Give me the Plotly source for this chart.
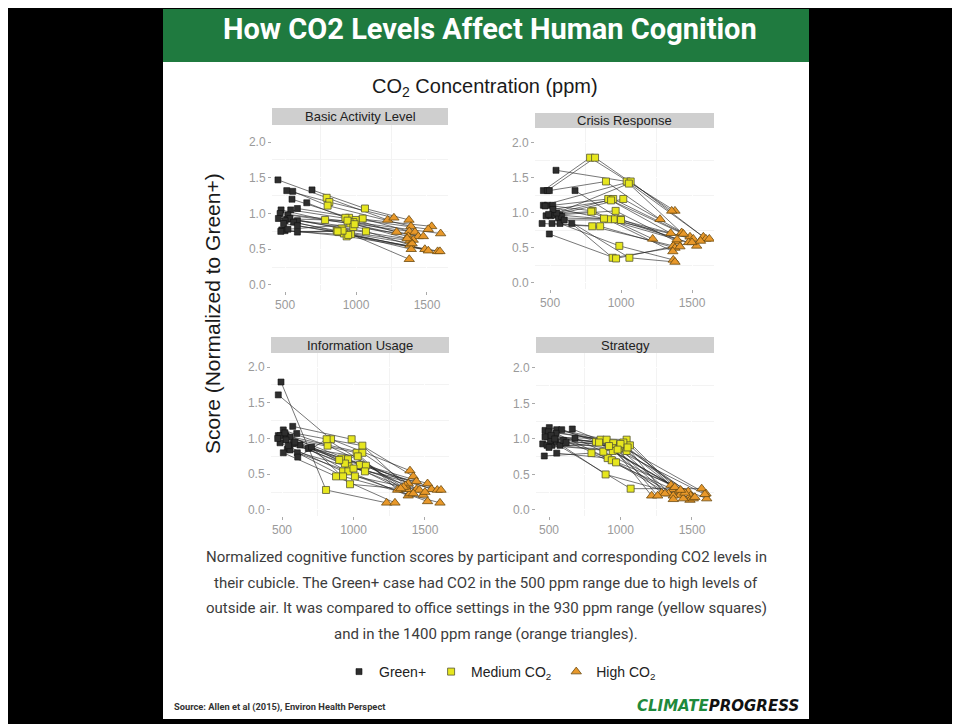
import plotly.graph_objects as go

W, H = 960, 724

# ---------------- data ----------------
panel_titles = ["Basic Activity Level", "Crisis Response", "Information Usage", "Strategy"]
x_ticks = [500, 1000, 1500]
y_ticks = [0.0, 0.5, 1.0, 1.5, 2.0]
y_tick_labels = ["0.0", "0.5", "1.0", "1.5", "2.0"]
legend_names = ["Green+", "Medium CO<sub>2</sub>", "High CO<sub>2</sub>"]

# Basic Activity Level
bal_green_x = [450, 690, 512, 554, 549, 653, 587, 540, 472, 465, 520, 453, 512, 535, 500, 587, 560, 587, 490, 477, 500, 587, 470, 520]
bal_green_y = [1.47, 1.33, 1.32, 1.31, 1.20, 1.15, 1.07, 1.05, 1.05, 1.00, 0.98, 0.93, 0.92, 0.93, 0.90, 0.90, 0.88, 0.83, 0.86, 0.77, 0.76, 0.74, 0.75, 0.78]
bal_med_x = [793, 1063, 812, 800, 951, 925, 1047, 997, 782, 981, 960, 940, 981, 899, 864, 1070, 880, 915, 964, 934, 945, 905, 870, 990]
bal_med_y = [1.22, 1.07, 1.16, 1.11, 0.94, 0.94, 0.93, 0.91, 0.91, 0.88, 0.86, 0.90, 0.81, 0.79, 0.76, 0.75, 0.74, 0.72, 0.71, 0.68, 0.70, 0.76, 0.75, 0.85]
bal_high_x = [1223, 1373, 1267, 1387, 1533, 1509, 1375, 1286, 1415, 1596, 1368, 1439, 1474, 1403, 1380, 1380, 1389, 1485, 1509, 1575, 1591, 1375, 1395, 1360]
bal_high_y = [0.91, 0.91, 0.94, 0.82, 0.82, 0.78, 0.75, 0.74, 0.74, 0.72, 0.68, 0.68, 0.68, 0.63, 0.62, 0.56, 0.50, 0.50, 0.48, 0.47, 0.47, 0.36, 0.58, 0.65]

# Crisis Response
cr_green_x = [453, 481, 495, 542, 453, 481, 519, 472, 505, 535, 570, 559, 676, 444, 514, 570, 653, 495, 582, 547, 520, 490, 600, 465]
cr_green_y = [1.32, 1.32, 1.32, 1.61, 1.11, 1.11, 1.11, 0.96, 0.96, 0.97, 0.97, 0.93, 1.32, 0.85, 0.85, 0.85, 0.85, 0.70, 0.95, 1.00, 1.05, 0.98, 0.90, 1.10]
cr_med_x = [782, 817, 894, 1040, 1068, 800, 910, 945, 1016, 962, 910, 957, 997, 797, 853, 988, 941, 965, 1059, 1055, 930, 790, 1000, 880]
cr_med_y = [1.79, 1.79, 1.45, 1.45, 1.45, 1.03, 1.20, 1.20, 1.20, 1.03, 0.91, 0.91, 0.91, 0.81, 0.81, 0.53, 0.36, 0.35, 0.36, 1.42, 1.18, 1.02, 0.90, 0.92]
cr_high_x = [1380, 1357, 1275, 1580, 1598, 1223, 1350, 1427, 1486, 1392, 1509, 1476, 1533, 1368, 1380, 1368, 1415, 1622, 1380, 1500, 1440, 1365, 1560, 1395]
cr_high_y = [1.03, 1.03, 0.91, 0.66, 0.63, 0.63, 0.71, 0.72, 0.66, 0.59, 0.63, 0.58, 0.53, 0.53, 0.50, 0.33, 0.52, 0.63, 0.30, 0.58, 0.70, 0.45, 0.60, 0.62]

# Information Usage
iu_green_x = [493, 474, 575, 509, 603, 474, 528, 486, 556, 528, 579, 626, 486, 537, 556, 509, 607, 684, 707, 610, 470, 520, 590, 545]
iu_green_y = [1.79, 1.61, 1.17, 1.12, 1.07, 1.04, 1.04, 1.04, 1.02, 0.98, 0.93, 0.91, 0.94, 0.85, 0.84, 0.80, 0.80, 0.86, 0.88, 0.74, 1.00, 1.08, 0.95, 0.90]
iu_med_x = [808, 843, 987, 819, 1062, 1022, 1062, 917, 962, 965, 1045, 1087, 927, 964, 1080, 878, 927, 1010, 976, 812, 940, 1000, 900, 1030]
iu_med_y = [0.28, 0.99, 0.99, 0.90, 0.90, 0.80, 0.80, 0.72, 0.71, 0.61, 0.63, 0.62, 0.54, 0.54, 0.54, 0.47, 0.47, 0.47, 0.36, 0.99, 0.65, 0.58, 0.70, 0.75]
iu_high_x = [1232, 1395, 1418, 1383, 1364, 1309, 1441, 1518, 1546, 1586, 1612, 1488, 1518, 1383, 1395, 1290, 1605, 1460, 1372, 1418, 1350, 1440, 1500, 1330]
iu_high_y = [0.10, 0.55, 0.47, 0.37, 0.34, 0.28, 0.29, 0.37, 0.29, 0.28, 0.28, 0.21, 0.12, 0.20, 0.23, 0.10, 0.10, 0.28, 0.29, 0.23, 0.32, 0.40, 0.25, 0.30]

# Strategy
st_green_x = [456, 467, 554, 472, 502, 488, 530, 554, 589, 663, 486, 521, 551, 509, 577, 600, 549, 495, 682, 472, 515, 540, 620, 500]
st_green_y = [0.93, 0.76, 0.80, 1.12, 1.16, 1.03, 1.02, 1.13, 1.13, 1.14, 0.91, 0.91, 0.96, 0.98, 0.91, 0.98, 1.08, 1.10, 1.01, 1.03, 1.05, 1.00, 0.95, 0.88]
st_med_x = [829, 797, 910, 861, 903, 1043, 1066, 950, 962, 992, 946, 1043, 896, 1071, 997, 939, 969, 1020, 880, 1000, 1050, 920, 980, 850]
st_med_y = [0.96, 0.80, 0.73, 0.99, 0.99, 0.99, 0.91, 0.94, 0.87, 0.87, 0.83, 0.83, 0.50, 0.30, 0.91, 0.70, 0.67, 0.95, 0.82, 0.93, 0.88, 0.90, 0.85, 0.95]
st_high_x = [1353, 1365, 1335, 1288, 1218, 1404, 1416, 1369, 1369, 1474, 1490, 1486, 1509, 1568, 1598, 1603, 1439, 1311, 1380, 1520, 1450, 1590, 1260, 1420]
st_high_y = [0.35, 0.29, 0.23, 0.24, 0.20, 0.26, 0.21, 0.20, 0.15, 0.26, 0.20, 0.14, 0.16, 0.30, 0.23, 0.16, 0.16, 0.23, 0.32, 0.18, 0.24, 0.22, 0.20, 0.28]

panels_data = [
    (bal_green_x, bal_green_y, bal_med_x, bal_med_y, bal_high_x, bal_high_y),
    (cr_green_x, cr_green_y, cr_med_x, cr_med_y, cr_high_x, cr_high_y),
    (iu_green_x, iu_green_y, iu_med_x, iu_med_y, iu_high_x, iu_high_y),
    (st_green_x, st_green_y, st_med_x, st_med_y, st_high_x, st_high_y),
]

# ---------------- layout geometry (page pixels) ----------------
# (left, right, plot_top, plot_bottom, header_top, xrange, yrange)
panel_geo = [
    (272, 448, 125, 291, 108, [408, 1648], [-0.084, 2.238]),
    (535, 714, 128, 289, 113, [394, 1655], [-0.086, 2.214]),
    (271, 449, 353, 516, 337, [423, 1668], [-0.084, 2.196]),
    (536, 714, 353, 516, 337, [409, 1654], [-0.085, 2.21]),
]

OFF = 8  # page body margin


def px(x):
    return (x - OFF) / W


def py(y):
    return 1 - (y - OFF) / H


NARROW = "Roboto, Liberation Sans, Arial"

fig = go.Figure()
layout_axes = {}
shapes = []
annotations = []

# card + banner
shapes.append(dict(type="rect", xref="paper", yref="paper", x0=px(163), x1=px(809), y0=py(719), y1=py(62),
                   fillcolor="white", line_width=0, layer="below"))
shapes.append(dict(type="rect", xref="paper", yref="paper", x0=px(163), x1=px(809), y0=py(62), y1=py(9),
                   fillcolor="#1f7a3f", line_width=0, layer="below"))

green_col = "#2e2e2e"
med_col = "#e6e61e"
high_col = "#e8982a"

for i, (data, geo, title) in enumerate(zip(panels_data, panel_geo, panel_titles)):
    gx, gy, mx, my, hx, hy = data
    l, r, t, b, ht, xr, yr = geo
    n = "" if i == 0 else str(i + 1)
    xa, ya = "x" + n, "y" + n
    lx, ly = [], []
    for k in range(len(gx)):
        lx += [gx[k], mx[k], hx[k], None]
        ly += [gy[k], my[k], hy[k], None]
    fig.add_trace(go.Scatter(x=lx, y=ly, mode="lines", xaxis=xa, yaxis=ya,
                             line=dict(color="rgba(35,35,35,0.62)", width=1),
                             showlegend=False, hoverinfo="skip"))
    fig.add_trace(go.Scatter(x=gx, y=gy, mode="markers", xaxis=xa, yaxis=ya, name=legend_names[0],
                             marker=dict(symbol="square", size=6, color=green_col,
                                         line=dict(color="#111111", width=0.6)),
                             showlegend=(i == 0), legendgroup="g"))
    fig.add_trace(go.Scatter(x=mx, y=my, mode="markers", xaxis=xa, yaxis=ya, name=legend_names[1],
                             marker=dict(symbol="square", size=7, color=med_col,
                                         line=dict(color="#555533", width=0.8)),
                             showlegend=(i == 0), legendgroup="m"))
    fig.add_trace(go.Scatter(x=hx, y=hy, mode="markers", xaxis=xa, yaxis=ya, name=legend_names[2],
                             marker=dict(symbol="triangle-up", size=9, color=high_col,
                                         line=dict(color="#6b4a10", width=0.8)),
                             showlegend=(i == 0), legendgroup="h"))
    layout_axes["xaxis" + n] = dict(
        domain=[px(l), px(r)], range=xr, anchor=ya, tickvals=x_ticks,
        ticks="outside", ticklen=3, tickcolor="#aaaaaa",
        tickfont=dict(family="Liberation Sans, Arial", size=12, color="#9a9a9a"),
        showgrid=True, gridcolor="white", gridwidth=1.2, zeroline=False, showline=False,
        minor=dict(tickvals=[750, 1250], showgrid=True, gridcolor="#f3f3f3", gridwidth=0.6, ticks=""),
    )
    layout_axes["yaxis" + n] = dict(
        domain=[py(b), py(t)], range=yr, anchor=xa, tickvals=y_ticks, ticktext=y_tick_labels,
        ticks="outside", ticklen=3, tickcolor="#aaaaaa",
        tickfont=dict(family="Liberation Sans, Arial", size=12, color="#9a9a9a"),
        showgrid=True, gridcolor="white", gridwidth=1.2, zeroline=False, showline=False,
        minor=dict(tickvals=[0.25, 0.75, 1.25, 1.75], showgrid=True, gridcolor="#f3f3f3", gridwidth=0.6, ticks=""),
    )
    shapes.append(dict(type="rect", xref="paper", yref="paper", x0=px(l), x1=px(r), y0=py(t), y1=py(ht),
                       fillcolor="#cfcfcf", line_width=0))
    annotations.append(dict(x=px((l + r) / 2), y=py((t + ht) / 2), xref="paper", yref="paper",
                            text=title, showarrow=False, xanchor="center", yanchor="middle",
                            font=dict(family="Liberation Sans, Arial", size=13, color="#222222")))

annotations.append(dict(x=px(490), y=py(29), xref="paper", yref="paper", showarrow=False,
                        text="<b>How CO2 Levels Affect Human Cognition</b>",
                        font=dict(family=NARROW, size=29, color="white"),
                        xanchor="center", yanchor="middle"))
annotations.append(dict(x=px(485), y=py(88), xref="paper", yref="paper", showarrow=False,
                        text="CO<sub>2</sub> Concentration (ppm)",
                        font=dict(family="Liberation Sans, Arial", size=20, color="#1a1a1a"),
                        xanchor="center", yanchor="middle"))
annotations.append(dict(x=px(212), y=py(314), xref="paper", yref="paper", showarrow=False,
                        text="Score (Normalized to Green+)", textangle=-90,
                        font=dict(family="Liberation Sans, Arial", size=21, color="#1a1a1a"),
                        xanchor="center", yanchor="middle"))

caption_lines = [
    "Normalized cognitive function scores by participant and corresponding CO2 levels in",
    "their cubicle. The Green+ case had CO2 in the 500 ppm range due to high levels of",
    "outside air. It was compared to office settings in the 930 ppm range (yellow squares)",
    "and in the 1400 ppm range (orange triangles).",
]
for j, line in enumerate(caption_lines):
    annotations.append(dict(x=px(486), y=py(557 + 25.7 * j), xref="paper", yref="paper", showarrow=False,
                            text=line, xanchor="center", yanchor="middle",
                            font=dict(family=NARROW, size=15, color="#3c3c3c")))

annotations.append(dict(x=px(172), y=py(707), xref="paper", yref="paper", showarrow=False,
                        text="<b>Source: Allen et al (2015), Environ Health Perspect</b>",
                        xanchor="left", yanchor="middle",
                        font=dict(family=NARROW, size=9.3, color="#333333")))
annotations.append(dict(x=px(801), y=py(706), xref="paper", yref="paper", showarrow=False,
                        text="<b><i><span style='color:#1f8a3c'>CLIMATE</span>PROGRESS</i></b>",
                        xanchor="right", yanchor="middle",
                        font=dict(family="DejaVu Sans", size=15, color="#111111")))

fig.update_layout(
    width=W, height=H, margin=dict(l=0, r=0, t=0, b=0),
    paper_bgcolor="black", plot_bgcolor="#e5e5e5",
    shapes=shapes, annotations=annotations,
    showlegend=True,
    legend=dict(orientation="h", x=px(500), xanchor="center", y=py(672), yanchor="middle",
                bgcolor="rgba(0,0,0,0)", font=dict(family="Liberation Sans, Arial", size=14, color="#222222"),
                itemwidth=30, tracegroupgap=0),
    **layout_axes,
)

fig.write_html("out.html")
